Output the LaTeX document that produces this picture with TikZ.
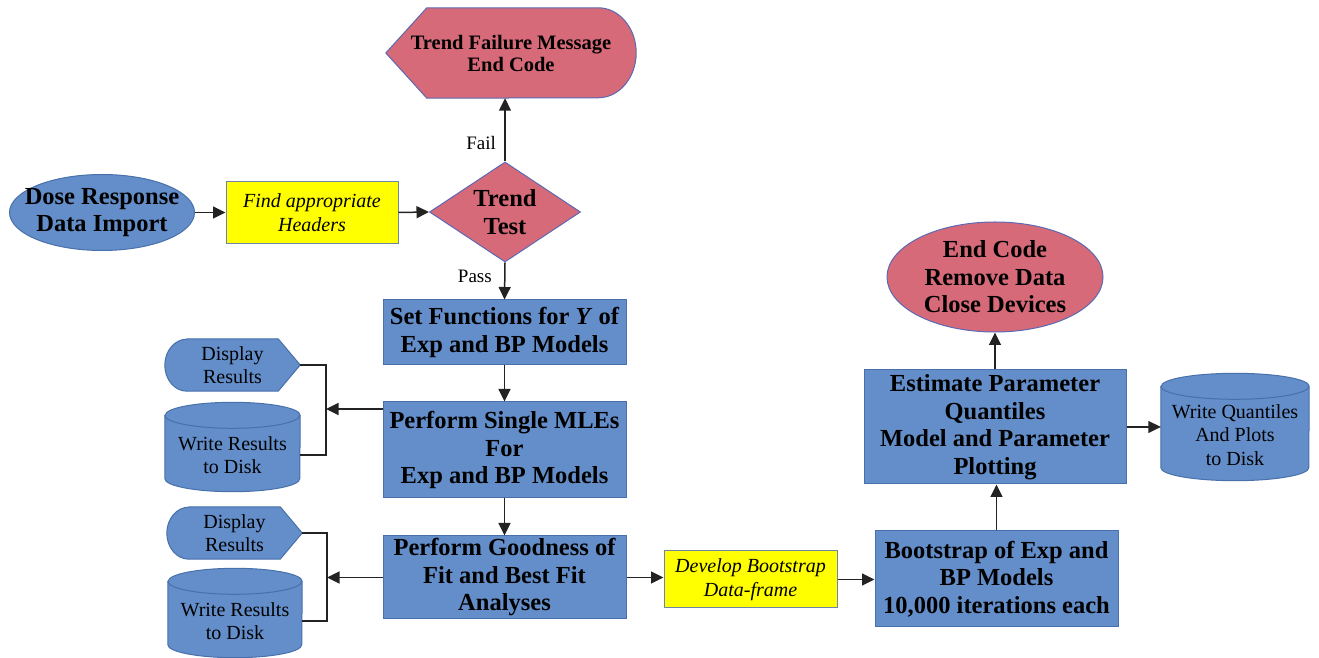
\documentclass[tikz,border=0pt]{standalone}
\usepackage{fontspec}
\setmainfont{Liberation Serif}
\usetikzlibrary{arrows.meta,positioning,calc,shapes.geometric,backgrounds}
\definecolor{flowblue}{RGB}{99,142,201}
\definecolor{flowedge}{RGB}{72,112,170}
\definecolor{stoppink}{RGB}{214,106,121}
\definecolor{stopedge}{RGB}{92,104,178}
\definecolor{noteyellow}{RGB}{255,255,0}
\definecolor{noteedge}{RGB}{112,132,168}
\definecolor{wirecol}{RGB}{35,35,35}
\newcommand{\boxfont}{\fontsize{24.5}{27.5}\selectfont\bfseries}
\newcommand{\failfont}{\fontsize{20.5}{22}\selectfont\bfseries}
\newcommand{\diskfont}{\fontsize{20}{23.5}\selectfont}
\newcommand{\notefont}{\fontsize{20}{24}\selectfont\itshape}
\newcommand{\tagfont}{\fontsize{19}{21}\selectfont}

\begin{document}
\begin{tikzpicture}[x=1pt,y=1pt,
  proc/.style={rectangle,fill=flowblue,draw=flowedge,line width=1pt,minimum width=243pt,align=center,font=\boxfont,inner sep=2pt},
  term/.style={ellipse,fill=#1,draw=flowedge,line width=1pt,align=center,font=\boxfont,inner sep=0pt},
  note/.style={rectangle,fill=noteyellow,draw=noteedge,line width=1pt,align=center,font=\notefont,inner sep=0pt},
  show/.style={minimum width=135pt,minimum height=52pt,align=center,font=\diskfont,inner sep=0pt},
  disk/.style={minimum height=89pt,align=center,font=\diskfont,inner sep=0pt},
  link/.style={draw=wirecol,line width=1.5pt},
  flow/.style={link,-{Triangle[length=12.5pt,width=12pt]}}]
  \useasboundingbox (0,0) rectangle (1319,658);

  % top row
  \node[term=flowblue,minimum width=185pt,minimum height=76pt,inner xsep=-20pt] (dose) at (102,445.5) {Dose Response\\Data Import};
  \node[note,minimum width=172pt,minimum height=62pt] (hdr) at (312,445.5) {Find appropriate\\Headers};
  \node[diamond,aspect=1.5,fill=stoppink,draw=stopedge,line width=1pt,minimum width=151pt,minimum height=100pt,
        align=center,font=\boxfont,inner sep=0pt] (trend) at (505,446) {Trend\\Test};
  \node[minimum width=250pt,minimum height=90pt,align=center,font=\failfont,inner sep=0pt] (fail) at (511,605) {Trend Failure Message\\End Code};

  % middle column
  \node[proc,minimum height=65pt] (setf) at (504.5,325.5) {Set Functions for \textit{Y} of\\Exp and BP Models};
  \node[proc,minimum height=96pt] (mle) at (504.5,208) {Perform Single MLEs\\For\\Exp and BP Models};
  \node[proc,minimum height=83pt] (gof) at (504.5,80.5) {Perform Goodness of\\Fit and Best Fit\\Analyses};

  % outputs on the left
  \node[show] (disp1) at (232.5,293) {Display\\Results};
  \node[disk,minimum width=135pt] (disk1) at (232.5,203) {Write Results\\to Disk};
  \node[show] (disp2) at (234.5,125) {Display\\Results};
  \node[disk,minimum width=134pt] (disk2) at (235,37) {Write Results\\to Disk};
  \coordinate (j1) at (326,249);
  \coordinate (j2) at (327,80.5);

  % right part
  \node[note,minimum width=173pt,minimum height=57pt] (bnote) at (750.5,78.5) {Develop Bootstrap\\Data-frame};
  \node[proc,minimum height=96pt] (boot) at (996.5,79) {Bootstrap of Exp and\\BP Models\\10,000 iterations each};
  \node[proc,minimum width=262pt,minimum height=114pt] (est) at (995,231) {Estimate Parameter\\Quantiles\\Model and Parameter\\Plotting};
  \node[disk,minimum width=148pt,minimum height=107pt] (quant) at (1235,223) {Write Quantiles\\And Plots\\to Disk};
  \node[term=stoppink,draw=stopedge,minimum width=216pt,minimum height=110pt] (endc) at (995,381) {End Code\\Remove Data\\Close Devices};

  \begin{scope}[on background layer]
    \draw[fill=stoppink,draw=stopedge,line width=1pt]
      ([xshift=41pt]fail.north west) -- ([xshift=-38pt]fail.north east)
      arc[start angle=90,end angle=-90,x radius=38pt,y radius=45pt]
      -- ([xshift=41pt]fail.south west) -- (fail.west) -- cycle;
    \foreach \n in {disp1,disp2}
      \draw[fill=flowblue,draw=flowedge,line width=1pt]
        ([xshift=22pt]\n.north west) -- ([xshift=-22pt]\n.north east) -- (\n.east)
        -- ([xshift=-22pt]\n.south east) -- ([xshift=22pt]\n.south west)
        arc[start angle=270,end angle=90,x radius=22pt,y radius=26pt] -- cycle;
    \foreach \n/\r in {disk1/67.5,disk2/67,quant/74} {
      \draw[fill=flowblue,draw=flowedge,line width=1pt]
        ([yshift=-5pt]\n.north west) -- ([yshift=21pt]\n.south west)
        arc[start angle=180,end angle=360,x radius=\r,y radius=13]
        -- ([yshift=-5pt]\n.north east)
        arc[start angle=0,end angle=180,x radius=\r,y radius=13] -- cycle;
      \draw[flowedge,line width=1pt] ([yshift=-5pt]\n.north west)
        arc[start angle=180,end angle=360,x radius=\r,y radius=13];
    }
  \end{scope}

  % connectors
  \draw[flow] (dose.east) -- (hdr.west);
  \draw[flow] (hdr.east) -- (trend.west);
  \draw[flow] (trend.north) -- node[pos=0.3,left=5pt,font=\tagfont] {Fail} (trend.north |- fail.south);
  \draw[flow] (trend.south) -- node[pos=0.37,left=9pt,font=\tagfont] {Pass} (setf.north);
  \draw[flow] (setf.south) -- (mle.north);
  \draw[flow] (mle.south) -- (gof.north);
  \draw[link] (disp1.east) -| (j1) |- (disk1.east);
  \draw[flow] (mle.west |- j1) -- (j1);
  \draw[link] (disp2.east) -| (j2) |- (disk2.east);
  \draw[flow] (gof.west) -- (j2);
  \draw[flow] (gof.east) -- (gof.east -| bnote.west);
  \draw[flow] (bnote.east) -- (bnote.east -| boot.west);
  \draw[flow] (boot.north) -- (boot.north |- est.south);
  \draw[flow] (est.east) -- (est.east -| quant.west);
  \draw[flow] (est.north) -- (est.north |- endc.south);
\end{tikzpicture}
\end{document}
